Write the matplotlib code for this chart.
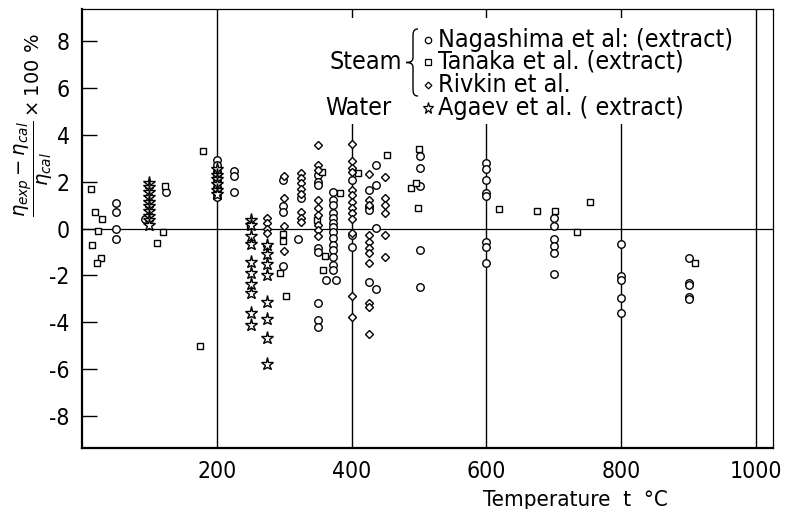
import matplotlib
matplotlib.use("Agg")
import matplotlib.pyplot as plt
from matplotlib import font_manager
from matplotlib.patches import Rectangle, PathPatch
from matplotlib.path import Path

# pick a condensed face when one is installed
narrow = [f for f in font_manager.fontManager.ttflist
          if ('Condensed' in f.fname or 'Narrow' in f.fname) and 'Bold' not in f.fname
          and 'Oblique' not in f.fname and 'Italic' not in f.fname]
if narrow:
    FP = font_manager.FontProperties(fname=narrow[0].fname)
else:
    FP = font_manager.FontProperties(family='DejaVu Sans')

# deviation data, temperature in deg C, deviation in %
nag_t = [50, 50, 50, 50, 94, 125,
         200, 200, 200, 200, 200, 200, 200, 200,
         225, 225, 225,
         298, 298, 298, 298, 320, 325,
         350, 350, 350, 350, 350, 350, 350, 350, 362,
         372, 372, 372, 372, 372, 372, 372, 372, 372, 372, 372, 372, 372, 372, 377,
         400, 400, 400, 425, 425, 425, 425, 436, 436, 436, 436,
         501, 501, 501, 501, 501,
         600, 600, 600, 600, 600, 600, 600, 600,
         700, 700, 700, 700, 700, 700,
         800, 800, 800, 800, 800,
         900, 900, 900, 900, 900]
nag_d = [1.10, 0.69, 0.0, -0.46, 0.42, 1.54,
         2.9, 2.7, 2.45, 2.2, 2.0, 1.75, 1.55, 1.35,
         2.45, 2.25, 1.54,
         2.06, 0.95, 0.72, -1.58, -0.46, 1.3,
         2.28, 1.99, 1.85, -0.84, -0.99, -3.18, -3.89, -4.18, -2.19,
         1.55, 1.21, 1.0, 0.65, 0.43, 0.22, 0.08, -0.13, -0.42, -0.70, -0.91, -1.2, -1.55, -1.77, -2.19,
         2.06, -0.28, -0.77, 1.64, 0.93, 0.79, -2.28, 2.70, 1.85, 0.04, -2.59,
         3.09, 2.59, 1.81, -0.91, -2.48,
         2.77, 2.53, 2.06, 1.52, 1.38, -0.56, -0.77, -1.48,
         0.43, 0.1, -0.46, -0.74, -1.06, -1.95,
         -0.67, -2.01, -2.19, -2.97, -3.58,
         -1.24, -2.31, -2.40, -2.90, -3.0]

tan_t = [13, 20, 30, 23, 15, 28, 22, 111, 120, 123, 180, 175,
         200, 200, 200, 249, 298, 298, 293, 302, 356, 348, 360, 357,
         383, 409, 452, 488, 495, 498, 500,
         618, 675, 701, 735, 754, 909]
tan_d = [1.68, 0.72, 0.42, -0.12, -0.70, -1.27, -1.48, -0.60, -0.16, 1.81, 3.3, -5.0,
         2.4, 1.95, 1.6, 0.15, -0.25, -0.53, -1.88, -2.86, 2.42, 0.36, -1.17, -1.77,
         1.52, 2.35, 3.13, 1.71, 1.95, 0.86, 3.37,
         0.84, 0.74, 0.74, -0.16, 1.11, -1.48]

riv_t = [275, 275, 275, 275, 275,
         300, 300, 300, 300,
         325, 325, 325, 325, 325, 325, 325, 325,
         350, 350, 350, 350, 350, 350, 350, 350, 350,
         400, 400, 400, 400, 400, 400, 400, 400, 400, 400, 400, 400, 400,
         425, 425, 425, 425, 425, 425, 425, 425, 425, 425, 425,
         450, 450, 450, 450, 450, 450]
riv_d = [0.45, 0.22, 0.0, -0.2, -0.74,
         2.23, 1.28, 0.10, -0.96,
         2.37, 2.16, 1.95, 1.67, 1.45, 0.70, 0.46, 0.26,
         3.55, 2.70, 2.49, 1.21, 0.86, 0.57, 0.15, -0.06, -0.32,
         3.62, 2.89, 2.56, 2.42, 1.64, 1.43, 1.14, 0.86, 0.65, 0.39, -0.2, -2.86, -3.75,
         2.33, 1.2, 1.0, -0.28, -0.56, -0.85, -1.06, -1.48, -3.18, -3.33, -4.50,
         2.2, 1.28, 1.0, 0.67, -0.28, -1.2]

aga_t = [100] * 10 + [200] * 6 + [250] * 10 + [275] * 8
aga_d = [1.95, 1.75, 1.55, 1.35, 1.15, 0.95, 0.75, 0.55, 0.35, 0.15,
         2.55, 2.3, 2.1, 1.9, 1.65, 1.45,
         0.38, 0.15, -0.3, -0.65, -1.42, -1.88, -2.35, -2.75, -3.58, -4.1,
         -0.72, -1.08, -1.5, -1.98, -3.15, -3.87, -4.67, -5.76]

xticks = [200, 400, 600, 800, 1000]
yticks = [-8, -6, -4, -2, 0, 2, 4, 6, 8]

W, H = 789, 509
fig = plt.figure(figsize=(W / 100, H / 100), dpi=100)
ax = fig.add_axes([82 / W, 1 - 448 / H, 691 / W, 439 / H])


def fpx(x, y):
    # pixel position -> figure fraction
    return x / W, 1 - y / H


def txt(x, y, s, size, **kw):
    fp = FP.copy()
    fp.set_size(size)
    return fig.text(*fpx(x, y), s, fontproperties=fp, **kw)


for t in xticks:
    ax.axvline(t, color='black', lw=1.0, zorder=1)
ax.axhline(0, color='black', lw=0.9, zorder=1)

mk = dict(ls='none', mfc='white', mec='black', mew=1.0, zorder=4)
ax.plot(nag_t, nag_d, 'o', ms=5.4, **mk)
ax.plot(tan_t, tan_d, 's', ms=4.6, **mk)
ax.plot(riv_t, riv_d, 'D', ms=4.0, **mk)
ax.plot(aga_t, aga_d, '*', ms=9.5, **mk)

ax.set_xlim(0, 1025)
ax.set_ylim(-9.35, 9.35)
ax.set_xticks(xticks, labels=[str(t) for t in xticks])
ax.set_yticks(yticks, labels=[str(v) for v in yticks])
ax.tick_params(axis='x', length=0, pad=9)
ax.tick_params(axis='y', direction='in', length=11, width=1.0, pad=9)
tick_fp = FP.copy()
tick_fp.set_size(16.5)
for lab in ax.get_xticklabels() + ax.get_yticklabels():
    lab.set_fontproperties(tick_fp)

ax.spines['left'].set_linewidth(1.6)
ax.spines['bottom'].set_linewidth(1.6)
ax.spines['top'].set_linewidth(0.9)
ax.spines['right'].set_linewidth(0.9)

# white box behind the key
x0, y0 = fpx(338, 124)
x1, y1 = fpx(745, 18)
fig.add_artist(Rectangle((x0, y0), x1 - x0, y1 - y0, transform=fig.transFigure,
                         facecolor='white', edgecolor='none', zorder=2))

rows = [40, 62, 85, 108]
keys = [('o', 5.4, 'Nagashima et al: (extract)'),
        ('s', 4.6, 'Tanaka et al. (extract)'),
        ('D', 4.0, 'Rivkin et al.'),
        ('*', 9.5, 'Agaev et al. ( extract)')]
for y, (m, s, label) in zip(rows, keys):
    fig.add_artist(plt.Line2D([fpx(428, y)[0]], [fpx(428, y)[1]], marker=m, ms=s * 0.85,
                              ls='none', mfc='white', mec='black', mew=0.9,
                              transform=fig.transFigure, zorder=5))
    txt(438, y, label, 18, ha='left', va='center', zorder=5)

txt(402, 62, 'Steam', 18, ha='right', va='center', zorder=5)
txt(392, 108, 'Water', 18, ha='right', va='center', zorder=5)

# curly brace grouping the steam entries
bx, tip, top, bot = 418, 406, 29, 96
mid = (top + bot) / 2
pts = [(bx, top), (413, top), (413, top + 4), (413, top + 8),
       (413, mid - 6), (413, mid - 6), (413, mid - 3), (413, mid), (tip, mid),
       (413, mid), (413, mid + 3), (413, mid + 6), (413, mid + 6),
       (413, bot - 8), (413, bot - 4), (413, bot), (bx, bot)]
codes = [Path.MOVETO, Path.CURVE4, Path.CURVE4, Path.CURVE4,
         Path.LINETO, Path.LINETO, Path.CURVE4, Path.CURVE4, Path.CURVE4,
         Path.CURVE4, Path.CURVE4, Path.CURVE4, Path.LINETO,
         Path.LINETO, Path.CURVE4, Path.CURVE4, Path.CURVE4]
fig.add_artist(PathPatch(Path([fpx(*p) for p in pts], codes), transform=fig.transFigure,
                         facecolor='none', edgecolor='black', lw=1.0, zorder=5))

txt(575, 500, 'Temperature  t  \u00b0C', 16, ha='center', va='center')
fig.text(*fpx(34, 125),
         r'$\dfrac{\eta_{exp}-\eta_{cal}}{\eta_{cal}}\times 100\ \%$',
         fontsize=14, rotation=90, ha='center', va='center')

fig.savefig('out.png', dpi=100)
